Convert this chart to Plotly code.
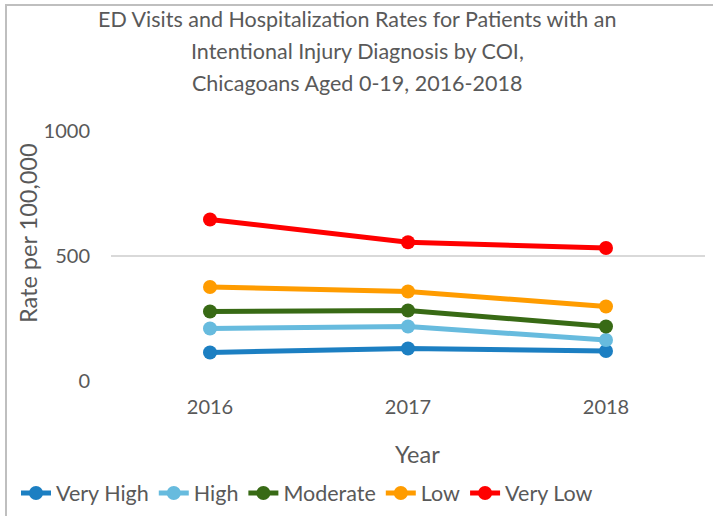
import plotly.graph_objects as go

# Data
years = ["2016", "2017", "2018"]
series_names = ["Very High", "High", "Moderate", "Low", "Very Low"]
very_high = [114, 130, 120]
high = [210, 218, 164]
moderate = [278, 282, 218]
low = [376, 358, 298]
very_low = [646, 555, 532]
y_ticks = [0, 500, 1000]

values = [very_high, high, moderate, low, very_low]
colors = ["#1c7fc2", "#67bbde", "#386a15", "#ff9c00", "#ff0000"]

W, H = 713, 516
L, R, T, B = 111, 8, 131, 135
PW, PH = W - L - R, H - T - B


def px_x(x):
    return (x - L) / PW


def px_y(y):
    return (H - B - y) / PH


FONT = "Lato"
TXT = "#595959"

fig = go.Figure()
for name, vals, col in zip(series_names, values, colors):
    fig.add_trace(go.Scatter(
        x=years, y=vals, name=name, mode="lines+markers",
        line=dict(color=col, width=5),
        marker=dict(color=col, size=14),
    ))

# Title lines
title_lines = [
    "ED Visits and Hospitalization Rates for Patients with an",
    "Intentional Injury Diagnosis by COI,",
    "Chicagoans Aged 0-19, 2016-2018",
]
annotations = []
for i, line in enumerate(title_lines):
    annotations.append(dict(
        text=line, xref="paper", yref="paper",
        x=px_x(357), y=px_y(19 + i * 32.2),
        xanchor="center", yanchor="middle", showarrow=False,
        font=dict(family=FONT, size=21.5, color=TXT),
    ))

# Axis titles
annotations.append(dict(
    text="Rate per 100,000", xref="paper", yref="paper",
    x=px_x(28), y=px_y(233), textangle=-90,
    xanchor="center", yanchor="middle", showarrow=False,
    font=dict(family=FONT, size=23.5, color=TXT),
))
annotations.append(dict(
    text="Year", xref="paper", yref="paper",
    x=px_x(417), y=px_y(454),
    xanchor="center", yanchor="middle", showarrow=False,
    font=dict(family=FONT, size=23.5, color=TXT),
))

# Chart frame
shapes = [dict(
    type="rect", xref="paper", yref="paper",
    x0=px_x(6), x1=px_x(W + 10), y0=px_y(H + 10), y1=px_y(5),
    line=dict(color="#bfbfbf", width=2), fillcolor="rgba(0,0,0,0)",
    layer="below",
)]

fig.update_layout(
    width=W, height=H,
    margin=dict(l=L, r=R, t=T, b=B, autoexpand=False),
    paper_bgcolor="white", plot_bgcolor="white",
    font=dict(family=FONT, size=20, color=TXT),
    showlegend=True,
    legend=dict(
        orientation="h", x=px_x(16), y=px_y(493),
        xanchor="left", yanchor="middle",
        font=dict(family=FONT, size=21.5, color=TXT),
        tracegroupgap=0,
        bgcolor="rgba(0,0,0,0)",
    ),
    annotations=annotations,
    shapes=shapes,
    xaxis=dict(
        type="category", range=[-0.5, 2.5],
        showgrid=False, showline=False, zeroline=False,
        ticks="", tickfont=dict(family=FONT, size=20, color=TXT),
        ticklabelstandoff=12,
    ),
    yaxis=dict(
        range=[0, 1000], tickvals=y_ticks,
        showgrid=True, gridcolor="#d9d9d9", gridwidth=1.5,
        zeroline=False, showline=False, ticks="",
        tickfont=dict(family=FONT, size=20, color=TXT),
        ticklabelstandoff=20,
    ),
)

fig.write_html("out.html")
